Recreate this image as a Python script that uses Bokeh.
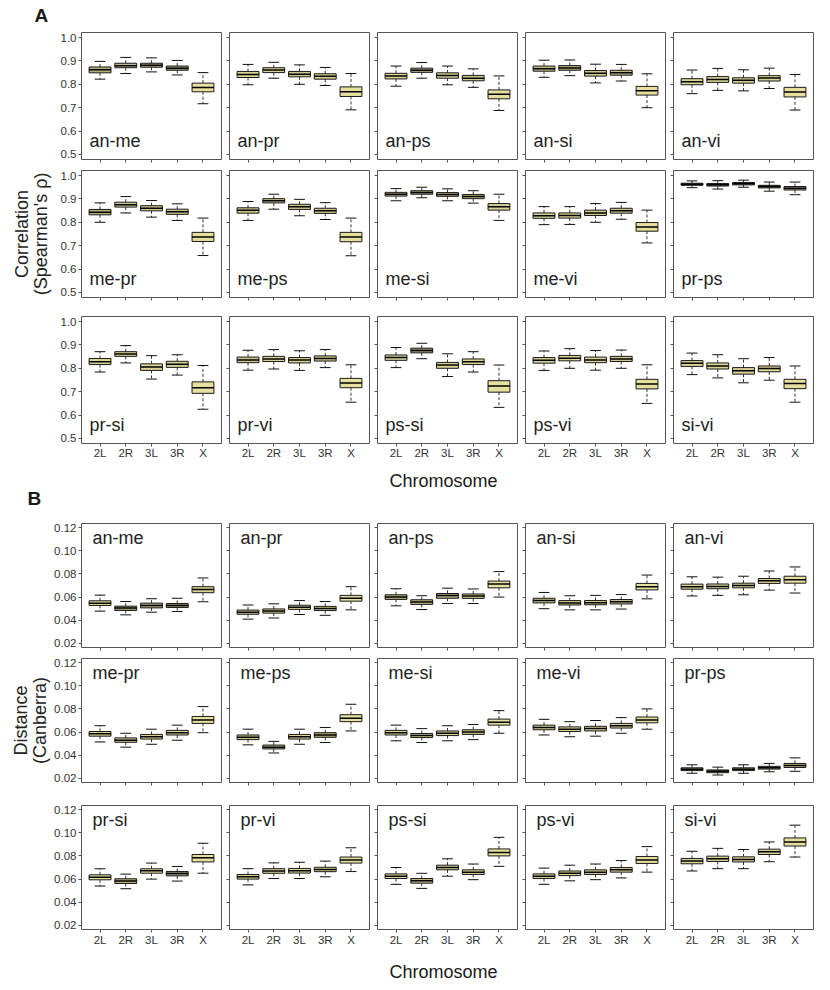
from bokeh.plotting import figure
from bokeh.layouts import column, row
from bokeh.models import (FactorRange, Range1d, FixedTicker, Label, ColumnDataSource,
                          NumeralTickFormatter, CustomJSTickFormatter)
from bokeh.transform import dodge
from bokeh.embed import file_html
from bokeh.resources import INLINE

CHROMS = ["2L", "2R", "3L", "3R", "X"]
PAIRS = ["an-me", "an-pr", "an-ps", "an-si", "an-vi",
         "me-pr", "me-ps", "me-si", "me-vi", "pr-ps",
         "pr-si", "pr-vi", "ps-si", "ps-vi", "si-vi"]

A_TICKS = [0.5, 0.6, 0.7, 0.8, 0.9, 1.0]
B_TICKS = [0.02, 0.04, 0.06, 0.08, 0.10, 0.12]

# ---- A: Spearman correlation (median, quartiles, whisker ends) ----
A_MED = [[0.862, 0.879, 0.881, 0.869, 0.786], [0.842, 0.861, 0.843, 0.834, 0.768], [0.835, 0.860, 0.838, 0.826, 0.757],
         [0.867, 0.870, 0.847, 0.849, 0.772], [0.811, 0.821, 0.817, 0.827, 0.767],
         [0.843, 0.875, 0.860, 0.845, 0.737], [0.851, 0.892, 0.866, 0.849, 0.737], [0.920, 0.927, 0.919, 0.910, 0.866],
         [0.828, 0.829, 0.840, 0.849, 0.780], [0.963, 0.961, 0.965, 0.953, 0.946],
         [0.828, 0.861, 0.806, 0.817, 0.717], [0.836, 0.840, 0.835, 0.842, 0.737], [0.846, 0.876, 0.814, 0.828, 0.724],
         [0.834, 0.843, 0.836, 0.840, 0.733], [0.822, 0.810, 0.790, 0.799, 0.735]]
A_Q1 = [[0.849, 0.871, 0.873, 0.860, 0.768], [0.829, 0.850, 0.832, 0.822, 0.748], [0.823, 0.851, 0.826, 0.815, 0.738],
        [0.856, 0.860, 0.835, 0.839, 0.754], [0.798, 0.808, 0.805, 0.814, 0.746],
        [0.832, 0.865, 0.849, 0.834, 0.718], [0.839, 0.883, 0.855, 0.838, 0.717], [0.912, 0.920, 0.911, 0.901, 0.852],
        [0.817, 0.818, 0.829, 0.839, 0.762], [0.958, 0.955, 0.960, 0.947, 0.938],
        [0.816, 0.851, 0.791, 0.804, 0.693], [0.824, 0.829, 0.823, 0.831, 0.717], [0.834, 0.866, 0.800, 0.816, 0.698],
        [0.822, 0.832, 0.824, 0.829, 0.712], [0.808, 0.797, 0.775, 0.785, 0.713]]
A_Q3 = [[0.874, 0.890, 0.890, 0.878, 0.805], [0.855, 0.871, 0.855, 0.845, 0.789], [0.847, 0.869, 0.849, 0.838, 0.776],
        [0.878, 0.880, 0.859, 0.860, 0.791], [0.824, 0.833, 0.828, 0.837, 0.787],
        [0.855, 0.886, 0.871, 0.856, 0.757], [0.862, 0.901, 0.877, 0.860, 0.757], [0.928, 0.935, 0.927, 0.919, 0.880],
        [0.840, 0.840, 0.852, 0.860, 0.799], [0.967, 0.966, 0.970, 0.958, 0.953],
        [0.842, 0.871, 0.819, 0.830, 0.742], [0.848, 0.851, 0.846, 0.853, 0.757], [0.857, 0.886, 0.825, 0.840, 0.747],
        [0.846, 0.855, 0.848, 0.851, 0.753], [0.833, 0.823, 0.803, 0.810, 0.753]]
A_LO = [[0.822, 0.846, 0.853, 0.840, 0.717], [0.798, 0.826, 0.800, 0.795, 0.691], [0.792, 0.826, 0.798, 0.787, 0.688],
        [0.830, 0.837, 0.806, 0.814, 0.700], [0.760, 0.774, 0.772, 0.782, 0.690],
        [0.800, 0.840, 0.822, 0.808, 0.658], [0.808, 0.856, 0.828, 0.812, 0.657], [0.892, 0.905, 0.892, 0.882, 0.808],
        [0.790, 0.791, 0.800, 0.813, 0.712], [0.948, 0.942, 0.950, 0.933, 0.918],
        [0.784, 0.823, 0.754, 0.771, 0.625], [0.792, 0.797, 0.791, 0.803, 0.655], [0.803, 0.841, 0.765, 0.784, 0.633],
        [0.791, 0.800, 0.792, 0.800, 0.650], [0.773, 0.759, 0.738, 0.749, 0.655]]
A_HI = [[0.898, 0.915, 0.913, 0.902, 0.850], [0.885, 0.894, 0.883, 0.872, 0.846], [0.878, 0.893, 0.878, 0.866, 0.836],
        [0.903, 0.904, 0.886, 0.885, 0.845], [0.861, 0.868, 0.862, 0.869, 0.842],
        [0.883, 0.910, 0.893, 0.879, 0.818], [0.889, 0.920, 0.898, 0.884, 0.818], [0.944, 0.950, 0.943, 0.935, 0.920],
        [0.867, 0.867, 0.880, 0.885, 0.852], [0.977, 0.978, 0.980, 0.972, 0.972],
        [0.871, 0.897, 0.854, 0.858, 0.812], [0.877, 0.880, 0.875, 0.880, 0.815], [0.889, 0.907, 0.862, 0.871, 0.814],
        [0.874, 0.884, 0.876, 0.878, 0.815], [0.865, 0.858, 0.841, 0.846, 0.810]]
A_SHADE = [[0.5, 0.4, 0.6, 0.6, 0.1], [0.2, 0.2, 0.3, 0.2, 0.1], [0.2, 0.5, 0.2, 0.3, 0.1], [0.4, 0.5, 0.3, 0.4, 0.1],
           [0.2, 0.2, 0.2, 0.2, 0.1],
           [0.5, 0.3, 0.3, 0.3, 0.1], [0.3, 0.3, 0.3, 0.3, 0.1], [0.4, 0.5, 0.4, 0.4, 0.2], [0.2, 0.2, 0.3, 0.3, 0.1],
           [0.9, 0.8, 0.6, 0.8, 0.5],
           [0.2, 0.2, 0.2, 0.2, 0.1], [0.3, 0.2, 0.2, 0.3, 0.1], [0.2, 0.7, 0.2, 0.2, 0.1], [0.2, 0.2, 0.2, 0.3, 0.1],
           [0.2, 0.2, 0.2, 0.2, 0.1]]

# ---- B: Canberra distance ----
B_MED = [[0.0548, 0.0505, 0.0528, 0.0528, 0.0666], [0.0470, 0.0480, 0.0512, 0.0502, 0.0590],
         [0.0600, 0.0557, 0.0614, 0.0609, 0.0712], [0.0570, 0.0550, 0.0552, 0.0560, 0.0690],
         [0.0690, 0.0692, 0.0700, 0.0740, 0.0750],
         [0.0585, 0.0530, 0.0560, 0.0595, 0.0705], [0.0555, 0.0470, 0.0560, 0.0575, 0.0720],
         [0.0595, 0.0570, 0.0590, 0.0600, 0.0685], [0.0640, 0.0625, 0.0630, 0.0655, 0.0705],
         [0.0280, 0.0262, 0.0280, 0.0293, 0.0312],
         [0.0617, 0.0583, 0.0672, 0.0649, 0.0783], [0.0620, 0.0670, 0.0672, 0.0683, 0.0765],
         [0.0625, 0.0585, 0.0700, 0.0660, 0.0830], [0.0625, 0.0650, 0.0660, 0.0680, 0.0765],
         [0.0755, 0.0775, 0.0770, 0.0835, 0.0920]]
B_Q1 = [[0.0528, 0.0485, 0.0507, 0.0510, 0.0638], [0.0452, 0.0462, 0.0494, 0.0484, 0.0565],
        [0.0580, 0.0537, 0.0590, 0.0589, 0.0680], [0.0550, 0.0532, 0.0534, 0.0541, 0.0662],
        [0.0668, 0.0672, 0.0680, 0.0718, 0.0720],
        [0.0565, 0.0512, 0.0540, 0.0575, 0.0675], [0.0535, 0.0455, 0.0540, 0.0555, 0.0690],
        [0.0575, 0.0553, 0.0570, 0.0580, 0.0660], [0.0620, 0.0605, 0.0610, 0.0635, 0.0680],
        [0.0268, 0.0250, 0.0268, 0.0281, 0.0295],
        [0.0594, 0.0562, 0.0651, 0.0628, 0.0748], [0.0600, 0.0650, 0.0652, 0.0664, 0.0738],
        [0.0605, 0.0565, 0.0680, 0.0640, 0.0800], [0.0605, 0.0630, 0.0640, 0.0660, 0.0735],
        [0.0732, 0.0752, 0.0748, 0.0812, 0.0885]]
B_Q3 = [[0.0568, 0.0522, 0.0548, 0.0545, 0.0690], [0.0488, 0.0498, 0.0530, 0.0520, 0.0615],
        [0.0620, 0.0577, 0.0631, 0.0627, 0.0738], [0.0590, 0.0570, 0.0571, 0.0579, 0.0718],
        [0.0712, 0.0713, 0.0720, 0.0760, 0.0780],
        [0.0605, 0.0550, 0.0580, 0.0615, 0.0735], [0.0575, 0.0488, 0.0580, 0.0595, 0.0750],
        [0.0615, 0.0588, 0.0610, 0.0620, 0.0712], [0.0660, 0.0645, 0.0650, 0.0675, 0.0730],
        [0.0292, 0.0274, 0.0292, 0.0305, 0.0330],
        [0.0637, 0.0603, 0.0689, 0.0666, 0.0812], [0.0640, 0.0690, 0.0692, 0.0702, 0.0790],
        [0.0645, 0.0605, 0.0720, 0.0680, 0.0860], [0.0645, 0.0670, 0.0680, 0.0700, 0.0795],
        [0.0778, 0.0798, 0.0792, 0.0858, 0.0955]]
B_LO = [[0.0479, 0.0447, 0.0470, 0.0476, 0.0560], [0.0410, 0.0420, 0.0450, 0.0443, 0.0490],
        [0.0525, 0.0493, 0.0545, 0.0545, 0.0600], [0.0500, 0.0490, 0.0490, 0.0497, 0.0585],
        [0.0610, 0.0615, 0.0620, 0.0660, 0.0635],
        [0.0515, 0.0470, 0.0495, 0.0530, 0.0595], [0.0490, 0.0420, 0.0495, 0.0510, 0.0610],
        [0.0525, 0.0510, 0.0525, 0.0535, 0.0590], [0.0575, 0.0560, 0.0565, 0.0590, 0.0625],
        [0.0245, 0.0230, 0.0245, 0.0258, 0.0262],
        [0.0540, 0.0517, 0.0600, 0.0583, 0.0651], [0.0550, 0.0605, 0.0605, 0.0620, 0.0665],
        [0.0555, 0.0520, 0.0625, 0.0595, 0.0710], [0.0555, 0.0585, 0.0595, 0.0610, 0.0660],
        [0.0670, 0.0690, 0.0690, 0.0750, 0.0790]]
B_HI = [[0.0617, 0.0562, 0.0586, 0.0590, 0.0765], [0.0532, 0.0542, 0.0570, 0.0562, 0.0690],
        [0.0672, 0.0612, 0.0677, 0.0670, 0.0820], [0.0640, 0.0612, 0.0615, 0.0622, 0.0790],
        [0.0775, 0.0772, 0.0780, 0.0825, 0.0860],
        [0.0655, 0.0590, 0.0625, 0.0660, 0.0820], [0.0625, 0.0520, 0.0625, 0.0640, 0.0840],
        [0.0660, 0.0630, 0.0655, 0.0665, 0.0785], [0.0710, 0.0690, 0.0700, 0.0725, 0.0800],
        [0.0318, 0.0298, 0.0318, 0.0330, 0.0378],
        [0.0689, 0.0643, 0.0738, 0.0709, 0.0909], [0.0690, 0.0740, 0.0745, 0.0755, 0.0870],
        [0.0700, 0.0650, 0.0775, 0.0730, 0.0960], [0.0695, 0.0720, 0.0730, 0.0760, 0.0880],
        [0.0840, 0.0865, 0.0855, 0.0920, 0.1065]]
B_SHADE = [[0.1, 0.6, 0.5, 0.7, 0.2], [0.3, 0.3, 0.2, 0.3, 0.1], [0.5, 0.4, 0.5, 0.3, 0.1], [0.3, 0.3, 0.3, 0.3, 0.1],
           [0.2, 0.2, 0.2, 0.2, 0.1],
           [0.2, 0.3, 0.2, 0.2, 0.1], [0.3, 0.4, 0.2, 0.5, 0.1], [0.2, 0.3, 0.2, 0.3, 0.1], [0.2, 0.2, 0.2, 0.2, 0.1],
           [0.6, 0.8, 0.6, 0.6, 0.4],
           [0.1, 0.5, 0.1, 0.7, 0.1], [0.2, 0.2, 0.2, 0.2, 0.1], [0.2, 0.4, 0.2, 0.2, 0.1], [0.2, 0.2, 0.2, 0.2, 0.1],
           [0.2, 0.2, 0.2, 0.2, 0.1]]

FONT = "Liberation Sans"
PALE = (243, 236, 168)
DARK = (118, 113, 78)


def shade_color(s):
    r, g, b = [round(PALE[i] + (DARK[i] - PALE[i]) * s) for i in range(3)]
    return "#%02x%02x%02x" % (r, g, b)


FRAME_W = 140
PAD = 0.22  # categorical padding on each side
LEFT0 = 81   # left border of first column
TOTAL_W = LEFT0 + FRAME_W + 4 + 4 * (4 + FRAME_W + 4)
EMPTY = CustomJSTickFormatter(code="return ''")

SECTIONS = {
    "A": dict(med=A_MED, q1=A_Q1, q3=A_Q3, lo=A_LO, hi=A_HI, shade=A_SHADE, ticks=A_TICKS,
              yr=(0.4786, 1.0214), fh=127, fmt="0.0",
              tops=[4, 5, 13], bots=[6, 6, 18], lab_x=0.09, lab_at_top=False,
              ylab_standoff=7, xlab_standoff=0,
              ytitle="Correlation\n(Spearman's \u03c1)"),
    "B": dict(med=B_MED, q1=B_Q1, q3=B_Q3, lo=B_LO, hi=B_HI, shade=B_SHADE, ticks=B_TICKS,
              yr=(0.01655, 0.12345), fh=124, fmt="0.00",
              tops=[4, 5, 17], bots=[6, 6, 18], lab_x=0.21, lab_at_top=True,
              ylab_standoff=1, xlab_standoff=1,
              ytitle="Distance\n(Canberra)"),
}


def strip(h, items):
    s = figure(width=TOTAL_W, height=h, x_range=Range1d(0, TOTAL_W), y_range=Range1d(h, 0),
               output_backend="svg", toolbar_location=None, min_border=0)
    s.axis.visible = False
    s.grid.visible = False
    s.outline_line_color = None
    s.background_fill_color = "white"
    s.border_fill_color = "white"
    for (x, y, text, size, style, align) in items:
        s.add_layout(Label(x=x, y=y, text=text, text_font=FONT, text_font_size=size,
                           text_font_style=style, text_color="#1a1a1a", text_align=align,
                           text_baseline="middle"))
    return s


def build_section(key):
    S = SECTIONS[key]
    y0, y1 = S["yr"]
    fh = S["fh"]
    ypp = (y1 - y0) / fh  # data per pixel
    rows = []
    for r in range(3):
        figs = []
        for c in range(5):
            k = r * 5 + c
            p = figure(x_range=FactorRange(factors=CHROMS, range_padding=PAD, range_padding_units="absolute"),
                       y_range=Range1d(y0, y1), frame_width=FRAME_W, frame_height=fh,
                       output_backend="svg", toolbar_location=None,
                       min_border_left=LEFT0 if c == 0 else 4, min_border_right=4,
                       min_border_top=S["tops"][r], min_border_bottom=S["bots"][r])
            p.outline_line_color = "#555555"
            p.outline_line_width = 1
            p.xgrid.visible = False
            p.ygrid.visible = False
            p.background_fill_color = "white"
            p.border_fill_color = "white"

            ya = p.yaxis[0]
            ya.ticker = FixedTicker(ticks=S["ticks"])
            ya.axis_line_color = None
            ya.major_tick_line_color = "#555555"
            ya.major_tick_out = 3
            ya.major_tick_in = 0
            ya.minor_tick_line_color = None
            ya.major_label_standoff = 2
            ya.major_label_text_font = FONT
            ya.major_label_text_color = "#333333"
            ya.major_label_text_font_size = "11.5px"
            if c == 0:
                ya.formatter = NumeralTickFormatter(format=S["fmt"])
            else:
                ya.formatter = EMPTY

            xa = p.xaxis[0]
            xa.axis_line_color = None
            xa.major_tick_line_color = "#555555"
            xa.major_tick_out = 3
            xa.major_tick_in = 0
            xa.minor_tick_line_color = None
            xa.major_label_text_font = FONT
            xa.major_label_text_color = "#333333"
            if r == 2:
                xa.major_label_standoff = S["xlab_standoff"]
                xa.major_label_text_font_size = "11.5px"
            else:
                xa.major_label_standoff = 0
                xa.major_label_text_font_size = "1px"
                xa.formatter = EMPTY

            if r == 1 and c == 0:
                ya.axis_label = S["ytitle"]
                ya.axis_label_standoff = S["ylab_standoff"]
                ya.axis_label_text_font = FONT
                ya.axis_label_text_font_size = "18px"
                ya.axis_label_text_font_style = "normal"
                ya.axis_label_text_line_height = 0.95
                ya.axis_label_text_color = "#222222"

            src = ColumnDataSource(dict(
                x=CHROMS, med=S["med"][k], q1=S["q1"][k], q3=S["q3"][k],
                lo=S["lo"][k], hi=S["hi"][k], color=[shade_color(v) for v in S["shade"][k]]))
            p.segment(x0="x", y0="q3", x1="x", y1="hi", source=src, line_color="#333333",
                      line_width=1, line_dash="3 2")
            p.segment(x0="x", y0="q1", x1="x", y1="lo", source=src, line_color="#333333",
                      line_width=1, line_dash="3 2")
            p.segment(x0=dodge("x", -0.21, range=p.x_range), y0="hi",
                      x1=dodge("x", 0.21, range=p.x_range), y1="hi", source=src,
                      line_color="#111111", line_width=1)
            p.segment(x0=dodge("x", -0.21, range=p.x_range), y0="lo",
                      x1=dodge("x", 0.21, range=p.x_range), y1="lo", source=src,
                      line_color="#111111", line_width=1)
            p.vbar(x="x", top="q3", bottom="q1", width=0.85, source=src, fill_color="color",
                   line_color="#1a1a1a", line_width=1)
            p.segment(x0=dodge("x", -0.425, range=p.x_range), y0="med",
                      x1=dodge("x", 0.425, range=p.x_range), y1="med", source=src,
                      line_color="#000000", line_width=1.5)

            # panel name
            if S["lab_at_top"]:
                ly = y1 - 14 * ypp
            else:
                ly = y0 + 19 * ypp
            p.add_layout(Label(x=S["lab_x"], y=ly, text=PAIRS[k], text_font=FONT,
                               text_font_size="18px", text_color="#222222",
                               text_baseline="alphabetic", text_align="left"))
            figs.append(p)
        rows.append(row(*figs))
    return rows


top_strip = strip(28, [(34, 15, "A", "19px", "bold", "left")])
mid_strip = strip(58, [(443, 19, "Chromosome", "18px", "normal", "center"),
                       (27, 37, "B", "19px", "bold", "left")])
bot_strip = strip(36, [(443, 23, "Chromosome", "18px", "normal", "center")])

layout = column(top_strip, *build_section("A"), mid_strip, *build_section("B"), bot_strip)

open("out.html", "w").write(file_html(layout, INLINE))
